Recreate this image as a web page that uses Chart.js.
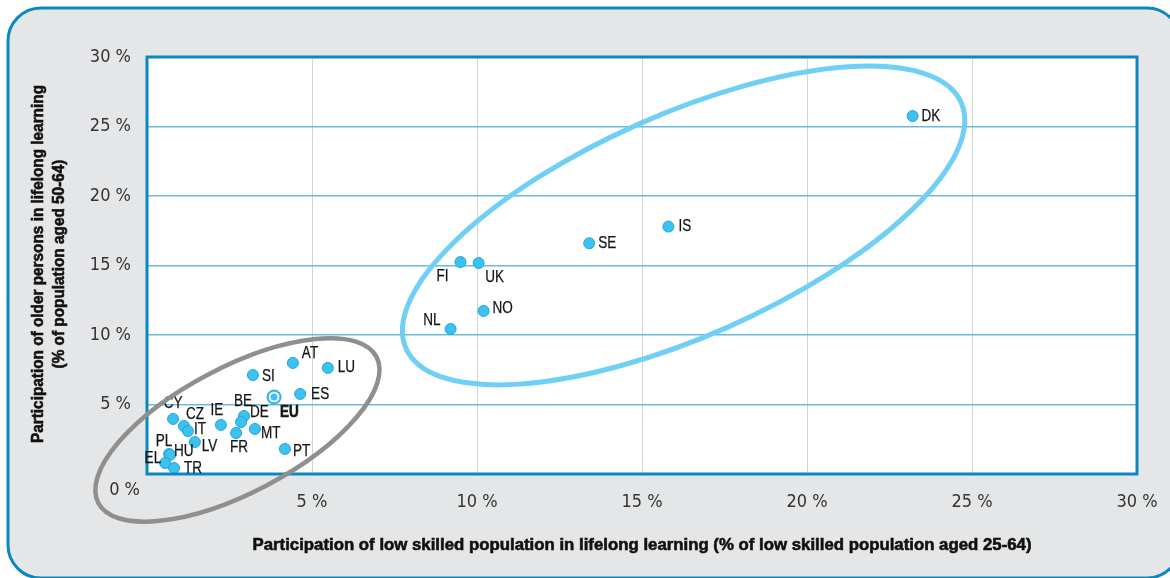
<!DOCTYPE html>
<html>
<head>
<meta charset="utf-8">
<script src="https://cdn.jsdelivr.net/npm/chart.js@4.4.1/dist/chart.umd.min.js"></script>
<style>
  html, body { margin: 0; padding: 0; background: #ffffff; }
  #wrap { width: 1170px; height: 578px; position: relative; }
</style>
</head>
<body>
<div id="wrap"><canvas id="c" width="1170" height="578"></canvas></div>
<script>
// ---------- DATA ----------
const countries = ['DK','IS','SE','FI','UK','NO','NL','AT','LU','SI','ES','BE','DE','IE','FR','MT','PT','CY','CZ','IT','LV','PL','HU','EL','TR'];
// x: participation of low skilled population in lifelong learning (%)
const lowSkilled = [23.2, 15.8, 13.4, 9.5, 10.05, 10.2, 9.2, 4.42, 5.48, 3.21, 4.64, 2.94, 2.85, 2.24, 2.70, 3.27, 4.18, 0.79, 1.12, 1.24, 1.45, 0.67, 0.70, 0.55, 0.82];
// y: participation of older persons (50-64) in lifelong learning (%)
const olderPersons = [25.75, 17.8, 16.6, 15.25, 15.18, 11.73, 10.43, 7.99, 7.63, 7.12, 5.76, 4.17, 3.74, 3.53, 2.95, 3.24, 1.80, 3.96, 3.45, 3.09, 2.30, 1.44, 1.38, 0.79, 0.43];
const euLabel = ['EU'];
const euX = [3.85];
const euY = [5.54];
const tickValues = [0, 5, 10, 15, 20, 25, 30];
const xTitle = 'Participation of low skilled population in lifelong learning (% of low skilled population aged 25-64)';
const yTitle = ['Participation of older persons in lifelong learning', '(% of population aged 50-64)'];

// ---------- STYLE / ANNOTATION SETTINGS ----------
const TICK_FONT = '"DejaVu Sans Condensed", "Liberation Sans", sans-serif';
const TEXT_FONT = '"Liberation Sans", Arial, sans-serif';
const labelOffsets = {
  DK:[9,0,'left'], IS:[10,0,'left'], SE:[9,0,'left'], FI:[-18,14,'center'], UK:[16,14,'center'],
  NO:[9,-2,'left'], NL:[-10,-9,'right'], AT:[9,-9,'left'], LU:[10,0,'left'], SI:[9,1,'left'],
  ES:[11,1,'left'], BE:[-1,-15,'center'], DE:[9,-10,'left'], IE:[-4,-14,'center'], FR:[3,14,'center'],
  MT:[6,4,'left'], PT:[8,2,'left'], CY:[0,-16,'center'], CZ:[2,-12,'left'], IT:[6,-2,'left'],
  LV:[7,4,'left'], PL:[-5,-13,'center'], HU:[4,-3,'left'], EL:[-4,-5,'right'], TR:[10,0,'left'],
  EU:[6,15,'left']
};
// ellipses: centre in data units, semi-axes in x-axis units, tilt in degrees
const ellipses = [
  { cx: 2.74, cy: 3.17, a: 4.76, b: 1.9, angle: 27.7, color: '#8f8f8f', width: 4.5 },
  { cx: 16.26, cy: 17.88, a: 9.2, b: 3.36, angle: 23.9, color: '#6fcff5', width: 5 }
];

const points = countries.map((c, i) => ({ x: lowSkilled[i], y: olderPersons[i], label: c }));
const euPoints = euLabel.map((c, i) => ({ x: euX[i], y: euY[i], label: c }));

function roundRect(ctx, x, y, w, h, r) {
  ctx.beginPath();
  ctx.moveTo(x + r, y);
  ctx.lineTo(x + w - r, y);
  ctx.arcTo(x + w, y, x + w, y + r, r);
  ctx.lineTo(x + w, y + h - r);
  ctx.arcTo(x + w, y + h, x + w - r, y + h, r);
  ctx.lineTo(x + r, y + h);
  ctx.arcTo(x, y + h, x, y + h - r, r);
  ctx.lineTo(x, y + r);
  ctx.arcTo(x, y, x + r, y, r);
  ctx.closePath();
}

// draw text horizontally condensed by factor sx (emulates a condensed typeface)
function condensedText(ctx, text, x, y, align, sx, heavy) {
  const w = ctx.measureText(text).width * sx;
  let left = x;
  if (align === 'center') left = x - w / 2;
  else if (align === 'right') left = x - w;
  ctx.save();
  ctx.translate(left, y);
  ctx.scale(sx, 1);
  ctx.textAlign = 'left';
  ctx.fillText(text, 0, 0);
  if (heavy) {
    ctx.lineWidth = heavy;
    ctx.strokeStyle = ctx.fillStyle;
    ctx.strokeText(text, 0, 0);
  }
  ctx.restore();
}
function fitText(ctx, text, cx, y, width, heavy) {
  const sx = width / ctx.measureText(text).width;
  condensedText(ctx, text, cx, y, 'center', sx, heavy);
  return sx;
}

const decorPlugin = {
  id: 'decor',
  beforeDraw(chart) {
    const ctx = chart.ctx, ca = chart.chartArea;
    ctx.save();
    ctx.fillStyle = '#ffffff';
    ctx.fillRect(0, 0, chart.width, chart.height);
    roundRect(ctx, 8, 8, 1172, 570, 33);
    ctx.fillStyle = '#e5e6e8';
    ctx.fill();
    ctx.lineWidth = 3;
    ctx.strokeStyle = '#0b88c0';
    ctx.stroke();
    ctx.fillStyle = '#ffffff';
    ctx.fillRect(ca.left, ca.top, ca.right - ca.left, ca.bottom - ca.top);
    ctx.restore();
  },
  afterDatasetsDraw(chart) {
    const ctx = chart.ctx, ca = chart.chartArea;
    const xs = chart.scales.x, ys = chart.scales.y;
    ctx.save();
    // plot frame
    ctx.lineWidth = 3;
    ctx.strokeStyle = '#0b88c0';
    ctx.strokeRect(ca.left, ca.top, ca.right - ca.left, ca.bottom - ca.top);
    // point labels
    ctx.fillStyle = '#141414';
    ctx.textBaseline = 'middle';
    const drawLabel = (p, bold) => {
      const o = labelOffsets[p.label] || [8, 0, 'left'];
      ctx.font = (bold ? 'bold ' : '') + '16.5px ' + TEXT_FONT;
      condensedText(ctx, p.label, xs.getPixelForValue(p.x) + o[0], ys.getPixelForValue(p.y) + o[1], o[2], 0.82, bold ? 0.6 : 0.25);
    };
    points.forEach(p => drawLabel(p, false));
    euPoints.forEach(p => drawLabel(p, true));
    // titles
    ctx.fillStyle = '#111111';
    ctx.font = 'bold 17px ' + TEXT_FONT;
    fitText(ctx, xTitle, 642, 545, 779, 0.6);
    ctx.save();
    ctx.translate(38, 264);
    ctx.rotate(-Math.PI / 2);
    const s2 = fitText(ctx, yTitle[0], 0, 0, 358, 0.6);
    condensedText(ctx, yTitle[1], 0, 21, 'center', s2, 0.6);
    ctx.restore();
    // shared origin label
    ctx.fillStyle = '#333333';
    ctx.font = '18px ' + TICK_FONT;
    ctx.textAlign = 'right';
    ctx.fillText('0 %', xs.getPixelForValue(0) - 7, ys.getPixelForValue(0) + 16);
    // ellipses
    const ppu = xs.getPixelForValue(1) - xs.getPixelForValue(0);
    ellipses.forEach(e => {
      ctx.save();
      ctx.translate(xs.getPixelForValue(e.cx), ys.getPixelForValue(e.cy));
      ctx.rotate(-e.angle * Math.PI / 180);
      ctx.beginPath();
      ctx.ellipse(0, 0, e.a * ppu, e.b * ppu, 0, 0, Math.PI * 2);
      ctx.lineWidth = e.width;
      ctx.strokeStyle = e.color;
      ctx.stroke();
      ctx.restore();
    });
    ctx.restore();
  }
};

const tickCb = v => (v === 0 ? '' : v + ' %');

new Chart(document.getElementById('c'), {
  type: 'scatter',
  data: {
    datasets: [
      { data: points, order: 2, pointRadius: 5.5, pointHoverRadius: 5.5, backgroundColor: '#3dc1ef', borderColor: '#22a6db', borderWidth: 1 },
      { data: euPoints, order: 1, pointRadius: 7, pointHoverRadius: 7, backgroundColor: '#3dc1ef', borderColor: '#22a6db', borderWidth: 1 },
      { data: euPoints, order: 0, pointRadius: 4.4, pointHoverRadius: 4.4, backgroundColor: '#3dc1ef', borderColor: '#ffffff', borderWidth: 1.8 }
    ]
  },
  options: {
    responsive: false,
    animation: false,
    events: [],
    layout: { padding: { left: 0, top: 57, right: 33, bottom: 0 } },
    plugins: { legend: { display: false }, tooltip: { enabled: false } },
    scales: {
      x: {
        type: 'linear', min: 0, max: 30,
        afterFit: s => { s.height = 104; s.paddingLeft = 0; s.paddingRight = 0; },
        afterBuildTicks: s => { s.ticks = tickValues.map(v => ({ value: v })); },
        grid: { color: '#d4d4d4', lineWidth: 1, drawTicks: false },
        border: { display: false },
        ticks: { callback: tickCb, padding: 18, color: '#333333', font: { family: TICK_FONT, size: 18 }, maxRotation: 0 }
      },
      y: {
        type: 'linear', min: 0, max: 30,
        afterFit: s => { s.width = 147; s.paddingTop = 0; s.paddingBottom = 0; },
        afterBuildTicks: s => { s.ticks = tickValues.map(v => ({ value: v })); },
        grid: { color: '#6cb8de', lineWidth: 1.5, drawTicks: false },
        border: { display: false },
        ticks: { callback: tickCb, padding: 16, color: '#333333', font: { family: TICK_FONT, size: 18 } }
      }
    }
  },
  plugins: [decorPlugin]
});
</script>
</body>
</html>
